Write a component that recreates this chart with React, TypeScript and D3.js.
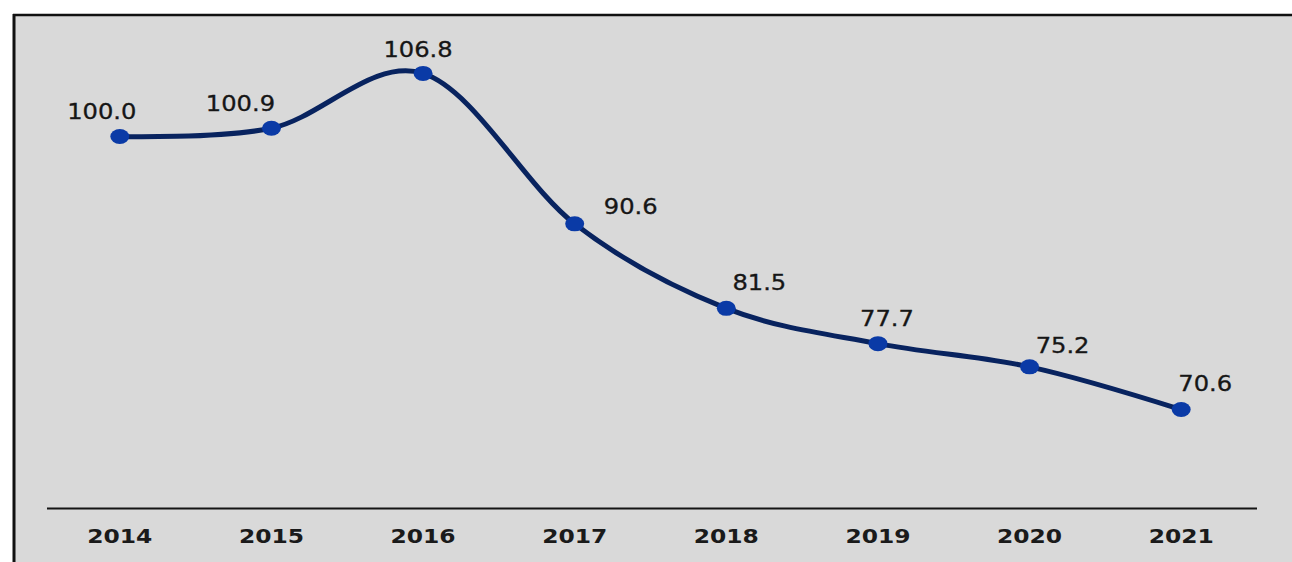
import React from "react";
import { scalePoint, scaleLinear, line, curveCardinal } from "d3";

// chart values
const years = ["2014", "2015", "2016", "2017", "2018", "2019", "2020", "2021"];
const values = [100.0, 100.9, 106.8, 90.6, 81.5, 77.7, 75.2, 70.6];
// where each value label sits relative to its point (dx, dy)
const labelDx = [-18, -31, -5, 56, 33, 9, 33, 24];
const labelDy = [-18, -17, -16, -10, -18, -18, -14, -19];

const W = 1292;
const H = 562;

function App() {
  const x = scalePoint<string>().domain(years).range([44, 1257]).padding(0.5);
  const y = scaleLinear().domain([60, 110]).range([508, 43.7]);

  const path = line<number>()
    .x((d, i) => x(years[i]) as number)
    .y((d) => y(d))
    .curve(curveCardinal.tension(0))(values);

  return (
    <svg
      width={W}
      height={H}
      style={{ position: "absolute", left: 0, top: 0, display: "block" }}
    >
      <rect x={0} y={0} width={W} height={H} fill="#ffffff" />
      <rect x={14} y={15} width={W} height={H} fill="#d9d9d9" />
      {/* frame: left and top edges */}
      <line x1={14} y1={14} x2={14} y2={H} stroke="#111" strokeWidth={3} />
      <line x1={13} y1={15} x2={W} y2={15} stroke="#111" strokeWidth={2.5} />

      {/* x axis */}
      <line x1={47} y1={508.5} x2={1257} y2={508.5} stroke="#151515" strokeWidth={2} />
      {years.map((yr) => (
        <text
          key={yr}
          transform={`translate(${x(yr)},543) scale(1.17,1)`}
          textAnchor="middle"
          fontFamily="DejaVu Sans, Verdana, sans-serif"
          fontWeight="bold"
          fontSize={20}
          fill="#1a1a1a"
        >
          {yr}
        </text>
      ))}

      <path d={path || ""} fill="none" stroke="#08235f" strokeWidth={5} />

      {values.map((v, i) => (
        <ellipse
          key={"m" + i}
          cx={x(years[i])}
          cy={y(v)}
          rx={9.5}
          ry={7.5}
          fill="#0a3aa6"
        />
      ))}

      {values.map((v, i) => (
        <text
          key={"l" + i}
          transform={`translate(${(x(years[i]) as number) + labelDx[i]},${
            y(v) + labelDy[i]
          }) scale(1.18,1)`}
          textAnchor="middle"
          fontFamily="DejaVu Sans, Verdana, sans-serif"
          fontSize={20.5}
          fill="#161616"
          stroke="#161616"
          strokeWidth={0.3}
        >
          {v.toFixed(1)}
        </text>
      ))}
    </svg>
  );
}

export default App;
